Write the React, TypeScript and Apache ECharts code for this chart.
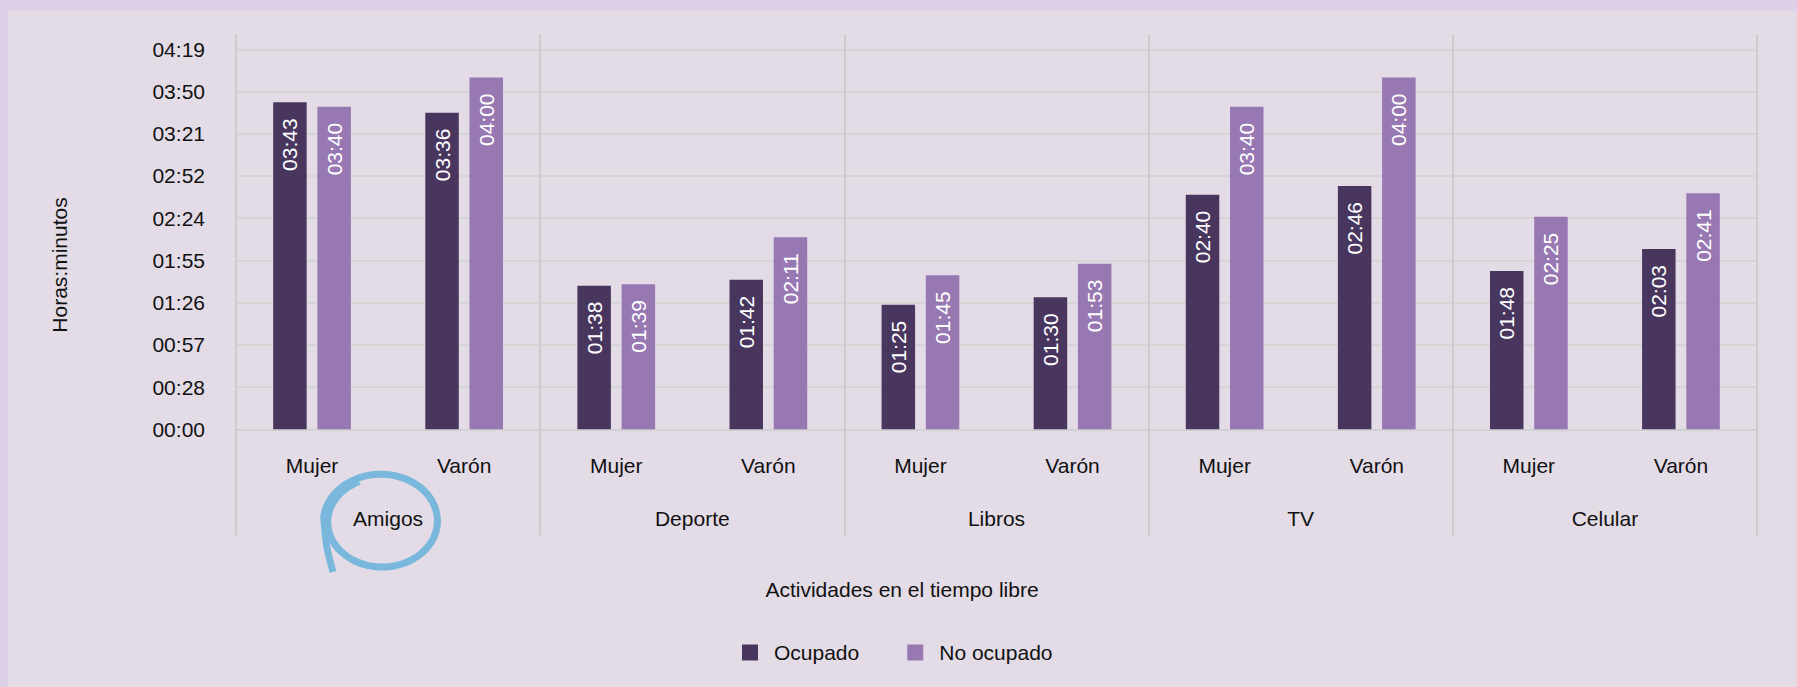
import React, { useEffect, useRef } from "react";
import * as echarts from "echarts";

const subCategories = ["Mujer", "Varón", "Mujer", "Varón", "Mujer", "Varón", "Mujer", "Varón", "Mujer", "Varón"];
const groups = ["Amigos", "Deporte", "Libros", "TV", "Celular"];
// minutes
const ocupado = [223, 216, 98, 102, 85, 90, 160, 166, 108, 123];
const noOcupado = [220, 240, 99, 131, 105, 113, 220, 240, 145, 161];
const seriesNames = ["Ocupado", "No ocupado"];
const yMax = 259.2;
const yInterval = 28.8;

const fmt = (v: number) => {
  const m = Math.floor(v + 1e-6);
  const h = Math.floor(m / 60);
  const mm = m % 60;
  return String(h).padStart(2, "0") + ":" + String(mm).padStart(2, "0");
};

const FONT = "'Liberation Sans', Arial, Helvetica, sans-serif";

export default function App() {
  const ref = useRef<HTMLDivElement>(null);
  useEffect(() => {
    if (!ref.current) return;
    const chart = echarts.init(ref.current, null, { renderer: "svg" });

    // hand-drawn circle annotation around "Amigos"
    const circ: number[][] = [[333, 572], [327, 548]];
    const N = 70;
    for (let i = 0; i <= N; i++) {
      const k = i / N;
      const t = ((185 + (605 - 185) * k) * Math.PI) / 180;
      const rx = 58 - 5 * k;
      const ry = 48 - 4 * k;
      circ.push([381.5 + rx * Math.cos(t), 521.5 + ry * Math.sin(t)]);
    }

    const labelCommon = {
      show: true,
      position: "insideTop",
      rotate: 90,
      align: "right",
      verticalAlign: "middle",
      distance: 16,
      color: "#ffffff",
      fontSize: 21,
      fontFamily: FONT,
      formatter: (p: any) => fmt(p.value),
    };

    chart.setOption({
      animation: false,
      backgroundColor: "#e3dce6",
      textStyle: { fontFamily: FONT },
      grid: { left: 236, right: 40, top: 49.3, height: 380, containLabel: false },
      legend: {
        data: seriesNames,
        left: 737,
        top: 637,
        itemWidth: 16,
        itemHeight: 16,
        itemGap: 48,
        icon: "rect",
        textStyle: { fontSize: 21, color: "#111", fontFamily: FONT, padding: [0, 0, 0, 11] },
      },
      xAxis: [
        {
          type: "category",
          data: subCategories,
          position: "bottom",
          axisLine: { show: true, lineStyle: { color: "#d2d1d1", width: 2 } },
          axisTick: { show: false },
          axisLabel: { fontSize: 21, color: "#111", margin: 26, fontFamily: FONT, interval: 0 },
          splitLine: { show: false },
        },
        {
          type: "category",
          data: groups,
          position: "bottom",
          axisLine: { show: false },
          axisTick: { show: true, length: 106, interval: 0, lineStyle: { color: "#cdcccc", width: 2 } },
          axisLabel: { fontSize: 21, color: "#111", margin: 79, fontFamily: FONT, interval: 0 },
          splitLine: { show: true, interval: 0, lineStyle: { color: "#cdcccc", width: 2 } },
        },
        {
          type: "category",
          data: groups,
          position: "top",
          axisLine: { show: false },
          axisTick: { show: true, length: 15, interval: 0, lineStyle: { color: "#cdcccc", width: 2 } },
          axisLabel: { show: false },
          splitLine: { show: false },
        },
      ],
      yAxis: {
        type: "value",
        min: 0,
        max: yMax,
        interval: yInterval,
        axisLine: { show: false },
        axisTick: { show: false },
        axisLabel: { fontSize: 21, color: "#111", margin: 31, fontFamily: FONT, formatter: (v: number) => fmt(v) },
        splitLine: { show: true, lineStyle: { color: "#d6d5d5", width: 2 } },
      },
      series: [
        {
          name: seriesNames[0],
          type: "bar",
          xAxisIndex: 0,
          data: ocupado,
          barWidth: 33.5,
          barGap: "32%",
          itemStyle: { color: "#48365f" },
          label: labelCommon,
        },
        {
          name: seriesNames[1],
          type: "bar",
          xAxisIndex: 0,
          data: noOcupado,
          barWidth: 33.5,
          barGap: "32%",
          itemStyle: { color: "#9878b3" },
          label: labelCommon,
        },
      ],
      graphic: [
        { type: "rect", shape: { x: 0, y: 0, width: 1797, height: 11 }, style: { fill: "#ddd0e6" }, silent: true },
        { type: "rect", shape: { x: 0, y: 0, width: 8, height: 687 }, style: { fill: "#ddd0e6" }, silent: true },
        {
          type: "text",
          x: 59,
          y: 265,
          rotation: Math.PI / 2,
          style: {
            text: "Horas:minutos",
            fontSize: 21,
            fontFamily: FONT,
            fill: "#111",
            align: "center",
            verticalAlign: "middle",
          },
        },
        {
          type: "text",
          x: 902,
          y: 589,
          style: {
            text: "Actividades en el tiempo libre",
            fontSize: 21,
            fontFamily: FONT,
            fill: "#111",
            align: "center",
            verticalAlign: "middle",
          },
        },
        {
          type: "polyline",
          shape: { points: circ, smooth: 0.2 },
          style: { stroke: "#79b8dc", lineWidth: 7, fill: null, lineCap: "butt" },
          silent: true,
        },
      ],
    });
    return () => chart.dispose();
  }, []);
  return (
    <div
      ref={ref}
      style={{ position: "fixed", left: 0, top: 0, width: 1797, height: 687 }}
    />
  );
}
